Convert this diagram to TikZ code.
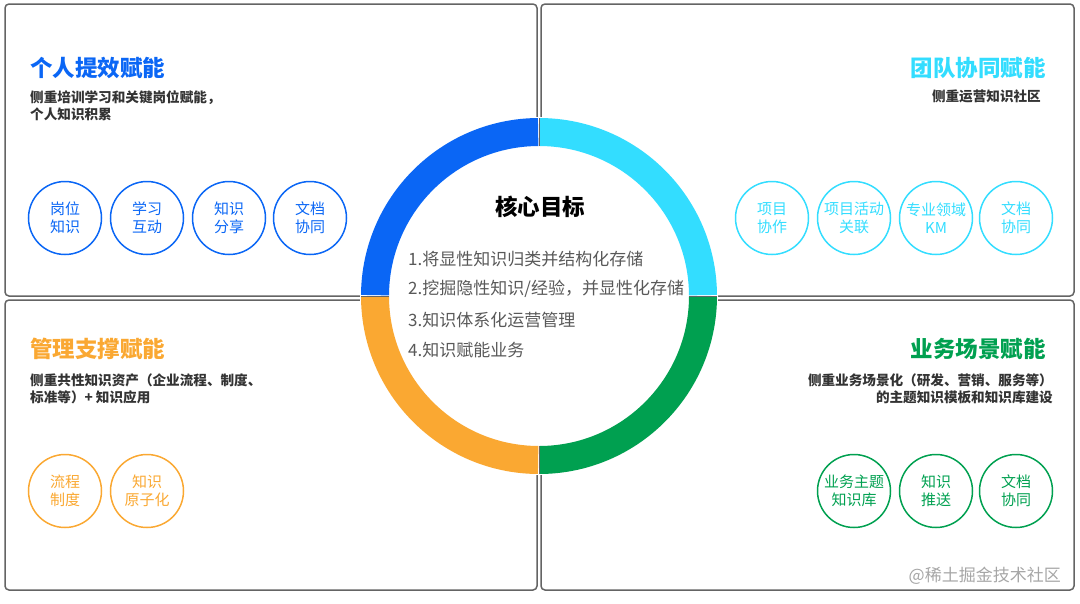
\documentclass[tikz,border=0pt]{standalone}
\usepackage{fontspec}
\setmainfont{Noto Sans CJK SC}

\definecolor{blueK}{RGB}{10,102,245}
\definecolor{cyanK}{RGB}{51,221,255}
\definecolor{orangeK}{RGB}{250,168,50}
\definecolor{greenK}{RGB}{0,160,80}
\definecolor{edgeK}{RGB}{100,100,100}

\tikzset{
  panel/.style={draw=edgeK, line width=1.5pt, rounded corners=4pt},
  head/.style={font=\fontsize{22.5}{26}\selectfont\bfseries, inner sep=0pt},
  note/.style={font=\fontsize{13.6}{17}\selectfont\bfseries, text=black!80, inner sep=0pt},
  bubble/.style={circle, draw=#1, text=#1, line width=1.5pt, minimum size=73pt,
    inner sep=0pt, align=center, font=\fontsize{15}{18}\selectfont},
  goal/.style={font=\fontsize{17}{20}\selectfont, text=black!65, inner sep=0pt, anchor=west},
  seg/.style={line width=28pt, draw=#1},
}

\begin{document}
\begin{tikzpicture}[x=1pt, y=-1pt]
  \useasboundingbox (0,0) rectangle (1080,603);

  % Four panels
  \draw[panel] (5,4) rectangle (537,296);
  \draw[panel] (541,4) rectangle (1074,296);
  \draw[panel] (5,300) rectangle (537,590);
  \draw[panel] (541,300) rectangle (1074,590);

  % Ring in the middle
  \coordinate (hub) at (539,296);
  \fill[white] (hub) circle[radius=179];
  \draw[seg=blueK]   (hub) ++(180.3:164) arc[start angle=180.3, end angle=269.7, radius=164];
  \draw[seg=cyanK]   (hub) ++(270.3:164) arc[start angle=270.3, end angle=359.7, radius=164];
  \draw[seg=greenK]  (hub) ++(0.3:164)   arc[start angle=0.3,   end angle=89.7,  radius=164];
  \draw[seg=orangeK] (hub) ++(90.3:164)  arc[start angle=90.3,  end angle=179.7, radius=164];

  % Thin seams between the quarters
  \draw[edgeK, line width=0.8pt] (hub) ++(0,-150) -- ++(0,-28);
  \draw[edgeK, line width=0.8pt] (hub) ++(0,150) -- ++(0,28);
  \draw[edgeK, line width=0.8pt] (hub) ++(-150,0) -- ++(-28,0);
  \draw[edgeK, line width=0.8pt] (hub) ++(150,0) -- ++(28,0);

  % Core goals
  \node[head, text=black] (core) at (540,207) {核心目标};
  \node[goal] (g1) at (408,259) {1.将显性知识归类并结构化存储};
  \node[goal] (g2) at (408,289) {2.挖掘隐性知识/经验，并显性化存储};
  \node[goal] (g3) at (408,320) {3.知识体系化运营管理};
  \node[goal] (g4) at (408,350) {4.知识赋能业务};

  % Top left panel
  \node[head, text=blueK, anchor=west] (tlHead) at (30,68) {个人提效赋能};
  \node[note, anchor=north west, align=left] (tlNote) at (30,90)
    {侧重培训学习和关键岗位赋能，\\个人知识积累};
  \node[bubble=blueK] (tl1) at (65,218) {岗位\\知识};
  \node[bubble=blueK] (tl2) at (147,218) {学习\\互动};
  \node[bubble=blueK] (tl3) at (229,218) {知识\\分享};
  \node[bubble=blueK] (tl4) at (310,218) {文档\\协同};

  % Top right panel
  \node[head, text=cyanK, anchor=east] (trHead) at (1046,68) {团队协同赋能};
  \node[note, anchor=north east] (trNote) at (1041,90) {侧重运营知识社区};
  \node[bubble=cyanK] (tr1) at (772,218) {项目\\协作};
  \node[bubble=cyanK] (tr2) at (854,218) {项目活动\\关联};
  \node[bubble=cyanK] (tr3) at (936,218) {专业领域\\KM};
  \node[bubble=cyanK] (tr4) at (1016,218) {文档\\协同};

  % Bottom left panel
  \node[head, text=orangeK, anchor=west] (blHead) at (30,349) {管理支撑赋能};
  \node[note, anchor=north west, align=left] (blNote) at (30,374)
    {侧重共性知识资产（企业流程、制度、\\标准等）+ 知识应用};
  \node[bubble=orangeK] (bl1) at (65,491) {流程\\制度};
  \node[bubble=orangeK] (bl2) at (147,491) {知识\\原子化};

  % Bottom right panel
  \node[head, text=greenK, anchor=east] (brHead) at (1046,349) {业务场景赋能};
  \node[note, anchor=north east, align=right] (brNote) at (1053,374)
    {侧重业务场景化（研发、营销、服务等）\\的主题知识模板和知识库建设};
  \node[bubble=greenK] (br1) at (854,491) {业务主题\\知识库};
  \node[bubble=greenK] (br2) at (936,491) {知识\\推送};
  \node[bubble=greenK] (br3) at (1016,491) {文档\\协同};

  % Watermark
  \node[font=\fontsize{17}{20}\selectfont, text=black!35, inner sep=0pt, anchor=east]
    (mark) at (1061,576) {@稀土掘金技术社区};

\end{tikzpicture}
\end{document}
